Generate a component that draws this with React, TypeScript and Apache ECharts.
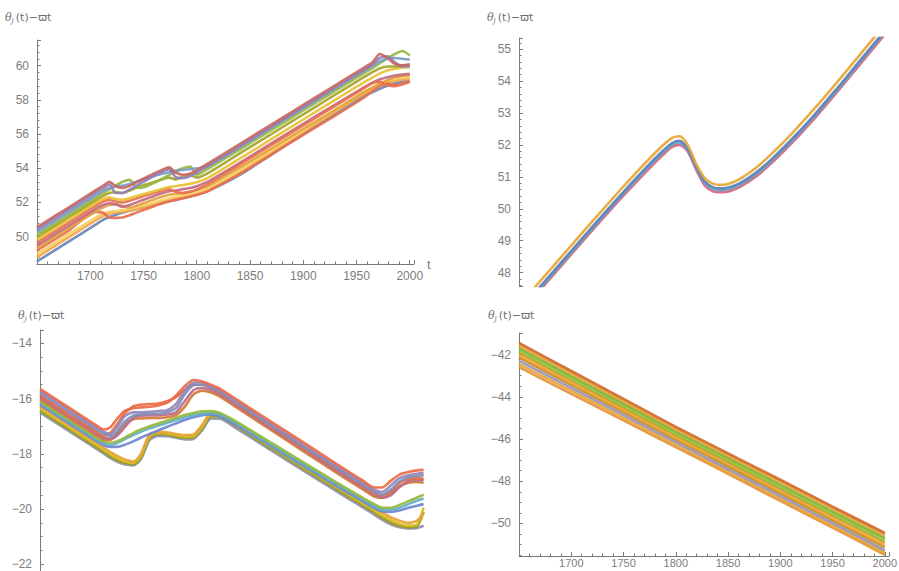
import React, { useEffect, useRef } from "react";
import * as echarts from "echarts";

// ---------------- Panel 1 (top-left) ----------------
const T1 = [1650, 1680, 1705, 1712, 1718, 1724, 1730, 1737, 1744, 1752, 1760, 1768, 1774, 1780, 1787, 1794, 1800, 1810, 1840, 1870, 1900, 1930, 1955, 1965, 1972, 1979, 1986, 1993, 2000];
const P1_RED = [50.55, 51.72, 52.7, 52.97, 53.2, 52.95, 52.85, 52.98, 53.2, 53.45, 53.7, 53.92, 54.05, 53.75, 53.62, 53.7, 53.88, 54.25, 55.4, 56.55, 57.7, 58.85, 59.8, 60.2, 60.68, 60.45, 60.1, 60.02, 60.08];
const P1_PURPLE = [50.42, 51.59, 52.57, 52.84, 53.05, 52.55, 52.55, 52.75, 53.0, 53.28, 53.55, 53.8, 53.95, 53.5, 53.42, 53.55, 53.74, 54.12, 55.27, 56.42, 57.57, 58.72, 59.67, 60.07, 60.45, 60.55, 60.2, 59.95, 59.95];
const P1_BLUE = [50.28, 51.45, 52.42, 52.68, 52.86, 52.95, 52.98, 53.08, 53.22, 53.4, 53.55, 53.68, 53.76, 53.85, 53.9, 53.95, 54.0, 54.1, 55.22, 56.37, 57.52, 58.67, 59.62, 60.0, 60.25, 60.4, 60.45, 60.4, 60.35];
const P1_GREEN = [50.12, 51.29, 52.27, 52.54, 52.77, 53.0, 53.2, 53.32, 52.85, 52.92, 53.15, 53.4, 53.6, 53.82, 54.0, 54.1, 53.62, 53.95, 55.08, 56.23, 57.38, 58.53, 59.48, 59.86, 60.14, 60.42, 60.68, 60.86, 60.6];
const P1_OLIVE = [49.98, 51.15, 52.12, 52.38, 52.55, 52.6, 52.55, 52.7, 52.88, 53.05, 53.2, 53.35, 53.45, 53.35, 53.5, 53.6, 53.45, 53.7, 54.85, 56.0, 57.15, 58.3, 59.25, 59.62, 59.85, 59.95, 59.95, 60.0, 60.05];
const P1_YELLOW = [49.82, 50.99, 51.96, 52.2, 52.28, 52.2, 52.15, 52.25, 52.38, 52.52, 52.66, 52.8, 52.9, 52.95, 53.02, 53.1, 53.18, 53.42, 54.55, 55.7, 56.85, 58.0, 58.95, 59.3, 59.55, 59.72, 59.82, 59.88, 59.92];
const P1_RED2 = [49.65, 50.82, 51.8, 52.05, 52.15, 52.05, 52.0, 52.1, 52.25, 52.4, 52.55, 52.7, 52.78, 52.62, 52.55, 52.62, 52.75, 53.05, 54.2, 55.35, 56.5, 57.65, 58.6, 58.98, 59.05, 58.85, 58.8, 58.95, 59.1];
const P1_ROSE = [49.48, 50.65, 51.62, 51.85, 51.95, 51.9, 51.75, 51.85, 52.02, 52.2, 52.38, 52.55, 52.65, 52.7, 52.78, 52.85, 52.95, 53.2, 54.3, 55.45, 56.6, 57.72, 58.65, 59.0, 59.2, 59.32, 59.42, 59.48, 59.52];
const P1_ORANGE = [49.32, 50.49, 51.46, 51.7, 51.85, 51.88, 51.8, 51.7, 51.82, 52.0, 52.18, 52.35, 52.45, 52.5, 52.55, 52.62, 52.72, 52.95, 54.02, 55.15, 56.3, 57.42, 58.38, 58.72, 58.95, 59.15, 59.3, 59.4, 59.45];
const P1_REDORANGE = [49.2, 50.37, 51.45, 51.4, 51.12, 51.1, 51.12, 51.25, 51.42, 51.6, 51.78, 51.95, 52.05, 52.15, 52.25, 52.35, 52.45, 52.65, 53.65, 54.8, 55.95, 57.08, 58.05, 58.5, 58.85, 58.95, 58.85, 58.9, 59.05];
const P1_LIGHTYELLOW = [48.98, 50.15, 51.12, 51.35, 51.45, 51.5, 51.55, 51.62, 51.72, 51.85, 52.0, 52.15, 52.25, 52.32, 52.4, 52.48, 52.55, 52.8, 53.85, 55.02, 56.22, 57.4, 58.38, 58.72, 58.95, 59.12, 59.25, 59.32, 59.36];
const P1_ORANGE2 = [48.8, 49.97, 50.95, 51.2, 51.35, 51.42, 51.45, 51.52, 51.6, 51.72, 51.88, 52.02, 52.12, 52.2, 52.3, 52.38, 52.45, 52.7, 53.72, 54.92, 56.12, 57.3, 58.28, 58.6, 58.82, 58.98, 59.1, 59.18, 59.22];
const P1_BOTTOM = [48.55, 49.72, 50.7, 50.98, 51.15, 51.28, 51.4, 51.52, 51.62, 51.75, 51.88, 52.0, 52.08, 52.15, 52.25, 52.35, 52.45, 52.65, 53.6, 54.8, 56.0, 57.18, 58.15, 58.45, 58.65, 58.82, 58.95, 59.05, 59.1];

// ---------------- Panel 2 (top-right) ----------------
const T2 = [1650, 1670, 1690, 1710, 1730, 1750, 1770, 1785, 1795, 1802, 1810, 1818, 1826, 1834, 1842, 1850, 1860, 1875, 1890, 1910, 1930, 1950, 1970, 1990, 2005];
const P2_ORANGE = [46.97, 47.73, 48.49, 49.25, 50.0, 50.74, 51.45, 51.95, 52.22, 52.27, 51.98, 51.38, 50.95, 50.78, 50.75, 50.8, 50.95, 51.3, 51.75, 52.42, 53.15, 53.92, 54.72, 55.52, 56.12];
const P2_BLUE = [46.8, 47.56, 48.32, 49.08, 49.83, 50.57, 51.28, 51.78, 52.06, 52.13, 51.88, 51.3, 50.85, 50.67, 50.64, 50.68, 50.82, 51.15, 51.58, 52.24, 52.96, 53.73, 54.53, 55.33, 55.93];
const P2_CYAN = [46.75, 47.51, 48.27, 49.03, 49.78, 50.52, 51.23, 51.73, 52.01, 52.08, 51.84, 51.26, 50.8, 50.62, 50.59, 50.63, 50.77, 51.1, 51.53, 52.19, 52.91, 53.68, 54.48, 55.28, 55.88];
const P2_RED = [46.69, 47.45, 48.21, 48.97, 49.72, 50.45, 51.15, 51.65, 51.94, 52.0, 51.78, 51.2, 50.72, 50.54, 50.52, 50.56, 50.7, 51.03, 51.46, 52.12, 52.84, 53.61, 54.41, 55.21, 55.81];

// ---------------- Panel 3 (bottom-left) ----------------
const T3 = [1650, 1680, 1700, 1708, 1714, 1720, 1727, 1735, 1742, 1750, 1758, 1766, 1774, 1782, 1790, 1798, 1806, 1814, 1830, 1860, 1890, 1920, 1945, 1955, 1962, 1970, 1978, 1986, 1994, 2000];
const P3_RED = [-15.65, -16.42, -16.93, -17.12, -17.05, -16.75, -16.45, -16.35, -16.32, -16.3, -16.25, -16.15, -15.9, -15.55, -15.33, -15.38, -15.5, -15.64, -16.05, -16.82, -17.58, -18.35, -18.98, -19.22, -19.22, -18.98, -18.75, -18.66, -18.6, -18.58];
const P3_PURPLE = [-15.72, -16.49, -17.0, -17.2, -17.28, -17.05, -16.65, -16.5, -16.5, -16.48, -16.45, -16.42, -16.2, -15.72, -15.42, -15.42, -15.55, -15.7, -16.12, -16.9, -17.66, -18.43, -19.06, -19.3, -19.38, -19.15, -18.88, -18.78, -18.72, -18.7];
const P3_BLUE = [-15.8, -16.57, -17.08, -17.28, -17.35, -17.2, -16.85, -16.62, -16.58, -16.55, -16.55, -16.5, -16.35, -15.85, -15.52, -15.5, -15.6, -15.76, -16.18, -16.96, -17.73, -18.5, -19.13, -19.38, -19.48, -19.3, -19.0, -18.86, -18.8, -18.78];
const P3_REDORANGE = [-15.88, -16.65, -17.16, -17.35, -17.25, -16.95, -16.55, -16.28, -16.22, -16.2, -16.18, -16.1, -15.95, -15.68, -15.5, -15.5, -15.62, -15.8, -16.22, -17.0, -17.77, -18.54, -19.17, -19.42, -19.5, -19.35, -19.05, -18.92, -18.88, -18.9];
const P3_ROSE = [-15.95, -16.72, -17.23, -17.42, -17.45, -17.35, -17.05, -16.7, -16.62, -16.6, -16.6, -16.58, -16.5, -16.1, -15.7, -15.62, -15.7, -15.85, -16.27, -17.05, -17.82, -18.6, -19.23, -19.48, -19.58, -19.5, -19.2, -19.0, -18.95, -18.95];
const P3_BROWN = [-16.02, -16.79, -17.3, -17.48, -17.5, -17.3, -16.95, -16.75, -16.72, -16.7, -16.7, -16.68, -16.6, -16.3, -15.85, -15.72, -15.78, -15.92, -16.34, -17.12, -17.9, -18.67, -19.3, -19.55, -19.6, -19.45, -19.18, -19.05, -19.02, -19.05];
const P3_GREEN = [-16.1, -16.87, -17.38, -17.55, -17.6, -17.55, -17.42, -17.25, -17.12, -17.0, -16.9, -16.8, -16.7, -16.6, -16.52, -16.46, -16.45, -16.52, -16.85, -17.58, -18.3, -19.02, -19.6, -19.82, -19.95, -19.95, -19.85, -19.72, -19.58, -19.48];
const P3_CYAN = [-16.16, -16.93, -17.44, -17.62, -17.68, -17.62, -17.48, -17.32, -17.2, -17.08, -16.98, -16.88, -16.78, -16.68, -16.6, -16.54, -16.52, -16.58, -16.92, -17.65, -18.37, -19.09, -19.67, -19.9, -20.02, -20.02, -19.95, -19.82, -19.7, -19.62];
const P3_BLUE2 = [-16.22, -16.99, -17.5, -17.68, -17.75, -17.75, -17.68, -17.55, -17.42, -17.28, -17.15, -17.02, -16.9, -16.78, -16.68, -16.6, -16.58, -16.64, -16.98, -17.7, -18.43, -19.15, -19.73, -19.96, -20.08, -20.1, -20.05, -19.95, -19.88, -19.82];
const P3_ORANGE = [-16.28, -17.05, -17.56, -17.77, -17.93, -18.07, -18.2, -18.28, -18.0, -17.3, -17.2, -17.22, -17.28, -17.32, -17.3, -16.95, -16.52, -16.55, -16.92, -17.66, -18.4, -19.12, -19.72, -19.96, -20.12, -20.3, -20.42, -20.5, -20.42, -20.15];
const P3_YELLOW = [-16.36, -17.13, -17.64, -17.85, -18.01, -18.15, -18.27, -18.33, -18.08, -17.36, -17.24, -17.26, -17.32, -17.38, -17.36, -17.02, -16.58, -16.6, -16.97, -17.72, -18.46, -19.19, -19.8, -20.05, -20.22, -20.4, -20.53, -20.6, -20.55, -19.95];
const P3_OLIVE = [-16.43, -17.2, -17.71, -17.92, -18.08, -18.22, -18.33, -18.38, -18.13, -17.42, -17.28, -17.3, -17.36, -17.42, -17.4, -17.08, -16.64, -16.66, -17.02, -17.78, -18.52, -19.26, -19.87, -20.12, -20.3, -20.48, -20.6, -20.66, -20.62, -20.1];
const P3_GREY = [-16.5, -17.27, -17.78, -17.99, -18.15, -18.28, -18.38, -18.42, -18.2, -17.5, -17.35, -17.36, -17.42, -17.48, -17.46, -17.15, -16.72, -16.73, -17.1, -17.85, -18.6, -19.34, -19.95, -20.2, -20.38, -20.55, -20.66, -20.7, -20.68, -20.6];

// ---------------- Panel 4 (bottom-right) ----------------
const T4 = [1650, 1700, 1750, 1800, 1850, 1900, 1950, 2000];
const P4_BROWNRED = [-41.45, -42.78, -44.1, -45.43, -46.68, -47.93, -49.2, -50.45];
const P4_ORANGE = [-41.57, -42.89, -44.2, -45.53, -46.78, -48.03, -49.3, -50.55];
const P4_GREEN = [-41.7, -43.02, -44.33, -45.65, -46.9, -48.16, -49.43, -50.68];
const P4_LIME = [-41.78, -43.1, -44.4, -45.72, -46.98, -48.24, -49.51, -50.76];
const P4_OLIVE = [-41.9, -43.21, -44.51, -45.82, -47.08, -48.35, -49.62, -50.88];
const P4_ORANGE2 = [-42.03, -43.33, -44.62, -45.92, -47.18, -48.46, -49.74, -51.01];
const P4_BROWN = [-42.15, -43.44, -44.73, -46.03, -47.29, -48.57, -49.85, -51.13];
const P4_GREYBLUE = [-42.3, -43.58, -44.86, -46.15, -47.42, -48.7, -49.98, -51.27];
const P4_ORANGE3 = [-42.45, -43.72, -44.99, -46.27, -47.54, -48.82, -50.1, -51.38];
const P4_BOTTOM = [-42.6, -43.86, -45.12, -46.38, -47.65, -48.93, -50.2, -51.48];

const X_TICK_STEP = 50;

const PANELS = [
  {
    times: T1,
    smooth: 0.25,
    lines: [
      [P1_BOTTOM, "#6a84b8"], [P1_ORANGE2, "#f0a64a"], [P1_LIGHTYELLOW, "#f6cf62"],
      [P1_REDORANGE, "#e5704f"], [P1_ORANGE, "#e3a23e"], [P1_ROSE, "#c06a86"],
      [P1_RED2, "#e8714f"], [P1_YELLOW, "#e9c034"], [P1_OLIVE, "#a5a52a"],
      [P1_GREEN, "#96b744"], [P1_BLUE, "#7b9cc8"], [P1_PURPLE, "#8f82b8"], [P1_RED, "#c8655f"],
    ],
  },
  {
    times: T2,
    smooth: 0.25,
    lines: [[P2_RED, "#d9637a"], [P2_CYAN, "#63a6cc"], [P2_BLUE, "#5e81b5"], [P2_ORANGE, "#e8a635"]],
  },
  {
    times: T3,
    smooth: 0.25,
    lines: [
      [P3_GREY, "#8d90a8"], [P3_OLIVE, "#9a9a1e"], [P3_YELLOW, "#d8bd1c"], [P3_ORANGE, "#e6a23a"],
      [P3_BLUE2, "#6f86cf"], [P3_CYAN, "#5fb0c8"], [P3_GREEN, "#95b83e"],
      [P3_BROWN, "#d27a34"], [P3_ROSE, "#b96a8e"], [P3_REDORANGE, "#eb6a3c"],
      [P3_BLUE, "#7f8fba"], [P3_PURPLE, "#9486b8"], [P3_RED, "#ec6a45"],
    ],
  },
  {
    times: T4,
    smooth: 0.15,
    lines: [
      [P4_BOTTOM, "#e39436"], [P4_ORANGE3, "#eaa23c"], [P4_GREYBLUE, "#9095b8"], [P4_BROWN, "#c98a2a"],
      [P4_ORANGE2, "#f0a530"], [P4_OLIVE, "#c0a020"], [P4_LIME, "#7dcf52"], [P4_GREEN, "#8fb032"],
      [P4_ORANGE, "#e6a035"], [P4_BROWNRED, "#cf6a2c"],
    ],
  },
];

const AXIS_COLOR = "#7a7a7a";
const LABEL_COLOR = "#7d7d7d";
const FONT = "'Liberation Sans', Arial, sans-serif";

function isMult(v: number, step: number) {
  const r = v / step;
  return Math.abs(r - Math.round(r)) < 1e-6;
}
function fmtNum(v: number) {
  const s = String(Math.round(v));
  return s.replace("-", "\u2212");
}

function xAxisCfg(grid: number, show: boolean, withName: boolean, margin: number, fontSize: number) {
  return {
    gridIndex: grid,
    type: "value",
    min: 1650,
    max: 2004,
    interval: X_TICK_STEP,
    show,
    name: withName ? "t" : "",
    nameLocation: "end",
    nameGap: 9,
    nameTextStyle: { color: LABEL_COLOR, fontSize: 13, fontFamily: FONT },
    axisLine: { show: true, onZero: false, lineStyle: { color: AXIS_COLOR, width: 1 } },
    axisTick: { show: true, inside: true, length: 4, lineStyle: { color: AXIS_COLOR } },
    minorTick: { show: true, splitNumber: 5, length: 2.5, lineStyle: { color: AXIS_COLOR } },
    splitLine: { show: false },
    minorSplitLine: { show: false },
    axisLabel: {
      color: LABEL_COLOR,
      fontSize,
      fontFamily: FONT,
      margin,
      formatter: (v: number) => (isMult(v, 50) && v > 1650 && v <= 2000 ? String(Math.round(v)) : ""),
    },
  };
}

function yAxisCfg(grid: number, min: number, max: number, step: number, minorSplit: number, split: number) {
  return {
    gridIndex: grid,
    type: "value",
    min,
    max,
    splitNumber: split,
    minInterval: step,
    maxInterval: step,
    axisLine: { show: true, onZero: false, lineStyle: { color: AXIS_COLOR, width: 1 } },
    axisTick: { show: true, inside: true, length: 4, lineStyle: { color: AXIS_COLOR } },
    minorTick: { show: true, splitNumber: minorSplit, length: 2.5, lineStyle: { color: AXIS_COLOR } },
    splitLine: { show: false },
    minorSplitLine: { show: false },
    axisLabel: {
      color: LABEL_COLOR,
      fontSize: 12,
      fontFamily: FONT,
      margin: 8,
      showMinLabel: true,
      showMaxLabel: true,
      formatter: (v: number) => (isMult(v, step) ? fmtNum(v) : ""),
    },
  };
}

function titleText(x: number, y: number) {
  return {
    type: "text",
    x,
    y,
    silent: true,
    style: {
      text: "{i|θ}{s|j}{n|(t)−ϖt}",
      fill: "#707070",
      rich: {
        i: { fontSize: 11, fontStyle: "italic", fontFamily: "'DejaVu Serif', serif", fill: "#707070", lineHeight: 14, verticalAlign: "middle" },
        s: { fontSize: 7, fontStyle: "italic", fontFamily: "'DejaVu Serif', serif", fill: "#707070", lineHeight: 14, verticalAlign: "bottom", padding: [0, 2, 0, 0] },
        n: { fontSize: 11, fontFamily: "'DejaVu Sans', sans-serif", fill: "#707070", lineHeight: 14, verticalAlign: "middle" },
      },
    },
  };
}

export default function App() {
  const ref = useRef<HTMLDivElement>(null);
  useEffect(() => {
    if (!ref.current) return;
    const chart = echarts.init(ref.current, null, { renderer: "svg" });
    const series: any[] = [];
    PANELS.forEach((p, gi) => {
      p.lines.forEach(([vals, color]: any) => {
        series.push({
          type: "line",
          xAxisIndex: gi,
          yAxisIndex: gi,
          data: p.times.map((t: number, i: number) => [t, vals[i]]),
          showSymbol: false,
          symbol: "none",
          smooth: p.smooth,
          clip: true,
          silent: true,
          emphasis: { disabled: true },
          lineStyle: { color, width: 2.6, opacity: 0.92 },
          itemStyle: { color },
        });
      });
    });
    chart.setOption({
      animation: false,
      backgroundColor: "#ffffff",
      grid: [
        { left: 37, top: 40, width: 377, height: 224, outerBoundsMode: "none", containLabel: false },
        { left: 519, top: 38, width: 374, height: 248, outerBoundsMode: "none", containLabel: false },
        { left: 40, top: 330, width: 388, height: 241, outerBoundsMode: "none", containLabel: false },
        { left: 519, top: 333, width: 370, height: 223, outerBoundsMode: "none", containLabel: false },
      ],
      xAxis: [
        xAxisCfg(0, true, true, 6, 12),
        xAxisCfg(1, false, false, 6, 12),
        xAxisCfg(2, false, false, 6, 12),
        xAxisCfg(3, true, false, 1, 11),
      ],
      yAxis: [
        yAxisCfg(0, 48.4, 61.5, 2, 5, 7),
        yAxisCfg(1, 47.58, 55.35, 1, 5, 8),
        yAxisCfg(2, -22.24, -13.52, 2, 4, 4),
        yAxisCfg(3, -51.54, -40.98, 2, 4, 5),
      ],
      graphic: [titleText(5, 10), titleText(487, 10), titleText(18, 308), titleText(488, 308)],
      series,
    });
    return () => chart.dispose();
  }, []);
  return <div ref={ref} style={{ position: "fixed", left: 0, top: 0, width: 899, height: 571, background: "#fff" }} />;
}
